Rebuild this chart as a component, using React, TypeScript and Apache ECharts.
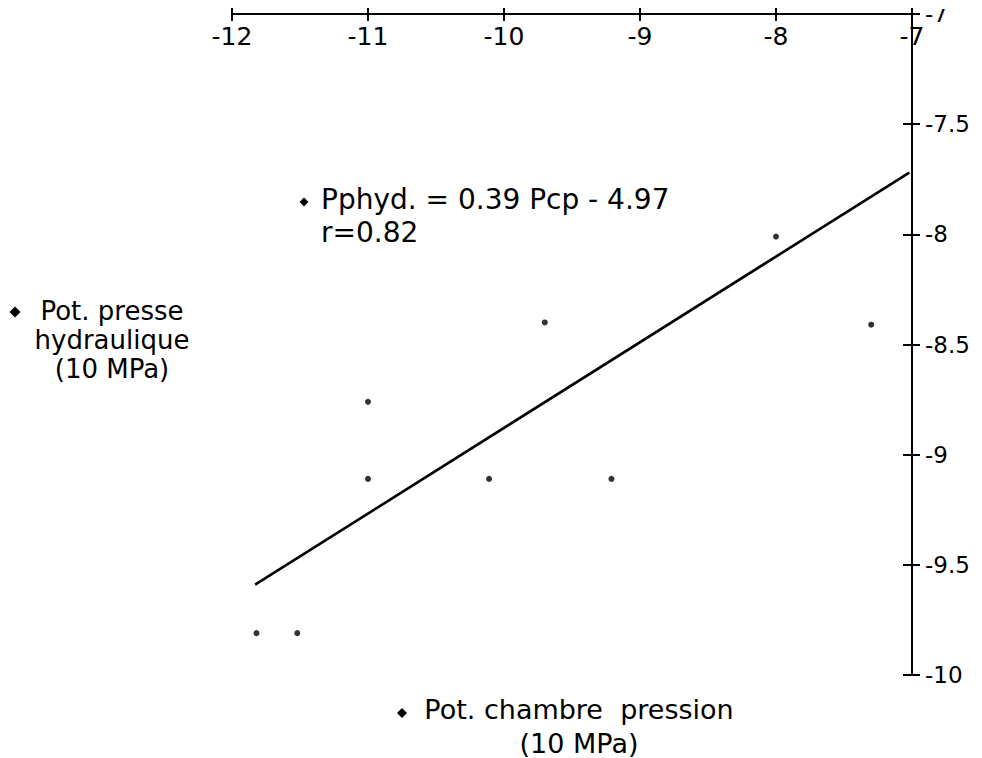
import React, { useEffect, useRef } from "react";
import * as echarts from "echarts";

// Scatter points: Pot. chambre pression (x) vs Pot. presse hydraulique (y), in 10 MPa
const pcp = [-11.82, -11.52, -11.0, -11.0, -10.11, -9.21, -9.7, -8.0, -7.3];
const pphyd = [-9.81, -9.81, -8.76, -9.11, -9.11, -9.11, -8.4, -8.01, -8.41];

// Regression line end points (Pphyd = 0.39 Pcp - 4.97)
const lineX = [-11.83, -7.02];
const lineY = [-9.59, -7.72];

// Axis ticks
const xTicks = [-12, -11, -10, -9, -8, -7];
const yTicks = [-10, -9.5, -9, -8.5, -8, -7.5, -7];

const FONT = "DejaVu Sans";

export default function App() {
  const ref = useRef<HTMLDivElement>(null);

  useEffect(() => {
    document.body.style.margin = "0";
    const chart = echarts.init(ref.current!, undefined, { renderer: "svg" });
    const xMin = xTicks[0];
    const xMax = xTicks[xTicks.length - 1];
    const xInt = xTicks[1] - xTicks[0];
    const yMin = yTicks[0];
    const yMax = yTicks[yTicks.length - 1];
    const yInt = yTicks[1] - yTicks[0];
    const black = "#000";

    const diamond = (cx: number, cy: number, r: number) => ({
      type: "polygon",
      z: 100,
      shape: { points: [[cx, cy - r], [cx + r, cy], [cx, cy + r], [cx - r, cy]] },
      style: { fill: black },
    });

    chart.setOption({
      animation: false,
      backgroundColor: "#fff",
      grid: { left: 232, right: 70, top: 14, bottom: 83 },
      xAxis: [
        {
          type: "value",
          position: "top",
          min: xMin,
          max: xMax,
          interval: xInt,
          splitLine: { show: false },
          axisLine: { show: true, lineStyle: { color: black, width: 2 } },
          axisTick: { show: true, length: 6, lineStyle: { color: black, width: 2 } },
          axisLabel: {
            inside: true,
            margin: 10,
            color: black,
            fontFamily: FONT,
            fontSize: 25,
            formatter: (v: number) => String(v),
          },
        },
        {
          type: "value",
          position: "top",
          min: xMin,
          max: xMax,
          interval: xInt,
          splitLine: { show: false },
          axisLine: { show: false },
          axisTick: { show: true, inside: true, length: 7, lineStyle: { color: black, width: 2 } },
          axisLabel: { show: false },
        },
      ],
      yAxis: [
        {
          type: "value",
          position: "right",
          min: yMin,
          max: yMax,
          interval: yInt,
          splitLine: { show: false },
          axisLine: { show: true, lineStyle: { color: black, width: 2 } },
          axisTick: { show: true, length: 8, lineStyle: { color: black, width: 2 } },
          axisLabel: {
            margin: 13,
            color: black,
            fontFamily: FONT,
            fontSize: 23,
            formatter: (v: number) => String(v),
          },
        },
        {
          type: "value",
          position: "right",
          min: yMin,
          max: yMax,
          interval: yInt,
          splitLine: { show: false },
          axisLine: { show: false },
          axisTick: { show: true, inside: true, length: 9, lineStyle: { color: black, width: 2 } },
          axisLabel: { show: false },
        },
      ],
      series: [
        {
          type: "scatter",
          xAxisIndex: 0,
          yAxisIndex: 0,
          symbol: "circle",
          symbolSize: 6,
          itemStyle: { color: black },
          data: pcp.map((x, i) => [x, pphyd[i]]),
        },
        {
          type: "line",
          xAxisIndex: 0,
          yAxisIndex: 0,
          showSymbol: false,
          symbol: "none",
          lineStyle: { color: black, width: 2.6 },
          data: lineX.map((x, i) => [x, lineY[i]]),
        },
      ],
      graphic: [
        // mimic the clipped top "-7" label of the reference
        { type: "rect", z: 100, shape: { x: 921, y: 0, width: 40, height: 9 }, style: { fill: "#fff" } },
        diamond(15, 312, 5.5),
        {
          type: "text",
          z: 100,
          x: 112,
          y: 340,
          style: {
            text: "Pot. presse\nhydraulique\n(10 MPa)",
            fill: black,
            font: `26px "${FONT}"`,
            align: "center",
            verticalAlign: "middle",
            lineHeight: 29,
          },
        },
        diamond(304, 202, 4.5),
        {
          type: "text",
          z: 100,
          x: 321,
          y: 216,
          style: {
            text: "Pphyd. = 0.39 Pcp - 4.97\nr=0.82",
            fill: black,
            font: `28px "${FONT}"`,
            align: "left",
            verticalAlign: "middle",
            lineHeight: 33,
          },
        },
        diamond(402, 713, 5),
        {
          type: "text",
          z: 100,
          x: 579,
          y: 726,
          style: {
            text: "Pot. chambre  pression\n(10 MPa)",
            fill: black,
            font: `27px "${FONT}"`,
            align: "center",
            verticalAlign: "middle",
            lineHeight: 34,
          },
        },
      ],
    });
    return () => chart.dispose();
  }, []);

  return <div ref={ref} style={{ width: 982, height: 758 }} />;
}
